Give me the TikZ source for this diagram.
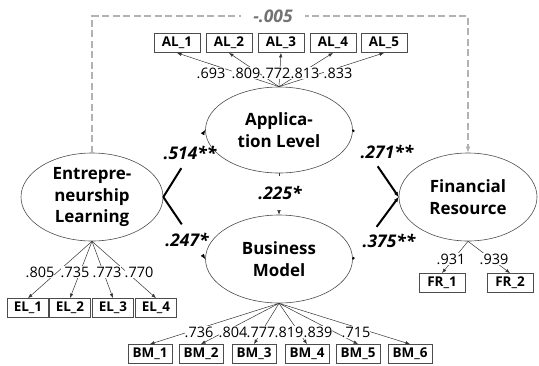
\documentclass[tikz,border=0pt]{standalone}
\usepackage{fontspec}
\setmainfont{Open Sans}
\usetikzlibrary{arrows.meta,positioning,shapes.geometric}

\begin{document}
\begin{tikzpicture}[x=1bp,y=-1bp,
    latent/.style={ellipse,draw=black!70,line width=0.6bp,minimum width=147bp,minimum height=86bp,inner sep=0pt,align=center,font=\fontsize{17}{21.5}\selectfont\bfseries},
    ind/.style={rectangle,draw=black!70,line width=0.8bp,minimum width=46bp,minimum height=19bp,inner sep=0pt,font=\fontsize{13.5}{15}\selectfont\bfseries},
    load/.style={fill=white,inner xsep=0pt,inner ysep=1bp,font=\fontsize{14.5}{17}\selectfont},
    coef/.style={font=\fontsize{17.5}{20}\selectfont\bfseries\itshape},
    lpath/.style={black!80,line width=0.5bp,-{Latex[length=4.5bp,width=3.5bp]}},
    spath/.style={black,line width=2bp,-{Latex[length=5bp,width=4bp,line width=0.5bp]}}]
    \useasboundingbox (0,0) rectangle (539,365);

    % Latent variables
    \node[latent] (AL) at (279,130) {Applica-\\tion Level};
    \node[latent,minimum width=142bp,minimum height=88bp] (EL) at (92,197) {Entrepre-\\neurship\\Learning};
    \node[latent,minimum height=88bp] (BM) at (279,259) {Business\\Model};
    \node[latent,minimum width=138bp,minimum height=88bp] (FR) at (468,197) {Financial\\Resource};

    % Observed indicators
    \foreach \i/\x in {1/177,2/229,3/281,4/333,5/384} {
        \node[ind] (AL\i) at (\x,43) {AL\_\i};
    }
    \foreach \i/\x in {1/28,2/70,3/113,4/156} {
        \node[ind,minimum width=41bp] (EL\i) at (\x,308) {EL\_\i};
    }
    \foreach \i/\x in {1/150,2/201,3/254,4/307,5/358,6/410} {
        \node[ind,minimum width=44bp] (BM\i) at (\x,354) {BM\_\i};
    }
    \foreach \i/\x in {1/442,2/510} {
        \node[ind] (FR\i) at (\x,283) {FR\_\i};
    }

    % Measurement paths
    \foreach \i in {1,...,5} {
        \draw[lpath] (AL.north) -- (AL\i.south);
    }
    \foreach \i in {1,...,4} {
        \draw[lpath] (EL.south) -- (EL\i.north);
    }
    \foreach \i in {1,...,6} {
        \draw[lpath] (BM.south) -- (BM\i.north);
    }
    \foreach \i in {1,2} {
        \draw[lpath] (FR.south) -- (FR\i.north);
    }

    % Factor loadings
    \foreach \i/\x/\v in {1/211/.693,2/246/.809,3/276/.772,4/305/.813,5/338/.833} {
        \node[load] (al\i) at (\x,73) {\v};
    }
    \foreach \i/\x/\v in {1/40/.805,2/75/.735,3/107/.773,4/139/.770} {
        \node[load] (el\i) at (\x,272) {\v};
    }
    \foreach \i/\x/\v in {1/199/.736,2/233/.804,3/261/.777,4/289/.819,5/318/.839,6/356/.715} {
        \node[load] (bm\i) at (\x,332) {\v};
    }
    \foreach \i/\x/\v in {1/451/.931,2/494/.939} {
        \node[load] (fr\i) at (\x,259) {\v};
    }

    % Structural paths
    \draw[spath,dash pattern=on 34bp off 80bp] (EL.east) -- (AL.west);
    \draw[spath,dash pattern=on 33bp off 80bp] (EL.east) -- (BM.west);
    \draw[lpath,dash pattern=on 3bp off 60bp] (AL.south) -- (BM.north);
    \draw[spath,dash pattern=on 2bp off 42bp on 60bp] (AL.east) -- (FR.west);
    \draw[spath,dash pattern=on 2bp off 38bp on 60bp] (BM.east) -- (FR.west);

    % Path coefficients
    \node[coef] (c1) at (190,153) {.514**};
    \node[coef] (c2) at (187,240) {.247*};
    \node[coef] (c3) at (280,193) {.225*};
    \node[coef] (c4) at (387,152) {.271**};
    \node[coef] (c5) at (389,241) {.375**};

    % Direct effect (not significant)
    \coordinate (top) at (273,16);
    \draw[black!30,line width=1.6bp,dash pattern=on 7bp off 3.5bp,-{Latex[length=6bp,width=5bp]}] (EL.north) |- (top) -| (FR.north);
    \node[coef,text=black!55,fill=white,inner xsep=12bp,inner ysep=2bp] (c6) at (top) {-.005};
\end{tikzpicture}
\end{document}
